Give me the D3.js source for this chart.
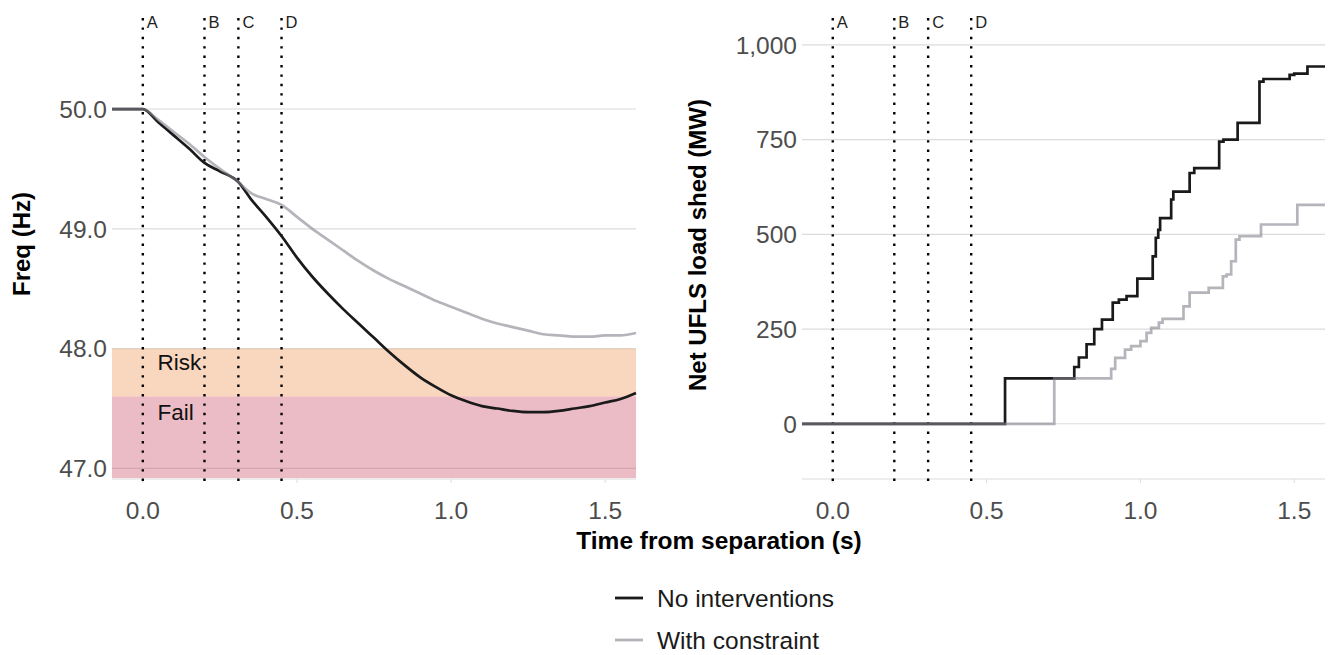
<!DOCTYPE html>
<html>
<head>
<meta charset="utf-8">
<script src="https://cdn.jsdelivr.net/npm/d3@7"></script>
<style>
  body { margin: 0; background: #fff; }
  text { font-family: "Liberation Sans", Arial, sans-serif; }
</style>
</head>
<body>
<script>
// event markers
const markerNames = ["A", "B", "C", "D"];
const markerTimes = [0, 0.2, 0.31, 0.45];

// frequency trace (Hz)
const freqTime = [-0.1, 0, 0.05, 0.1, 0.15, 0.2, 0.25, 0.31, 0.35, 0.4, 0.45, 0.5, 0.55, 0.6, 0.65, 0.7, 0.75, 0.8, 0.85, 0.9, 0.95, 1.0, 1.05, 1.1, 1.15, 1.2, 1.25, 1.3, 1.35, 1.4, 1.45, 1.5, 1.55, 1.6];
const freqNoInterv = [50, 50, 49.89, 49.78, 49.67, 49.55, 49.48, 49.39, 49.25, 49.10, 48.94, 48.76, 48.60, 48.46, 48.33, 48.21, 48.09, 47.97, 47.86, 47.76, 47.68, 47.61, 47.56, 47.52, 47.50, 47.48, 47.47, 47.47, 47.48, 47.50, 47.52, 47.55, 47.58, 47.63];
const freqConstraint = [50, 50, 49.91, 49.81, 49.71, 49.60, 49.50, 49.39, 49.30, 49.25, 49.20, 49.10, 49.00, 48.91, 48.82, 48.73, 48.65, 48.58, 48.52, 48.46, 48.40, 48.35, 48.30, 48.25, 48.21, 48.18, 48.15, 48.12, 48.11, 48.10, 48.10, 48.11, 48.11, 48.13];

// risk bands (Hz)
const bandNames = ["Risk", "Fail"];
const bandTop = [48.0, 47.6];
const bandBottom = [47.6, 46.0];
const bandLabelY = [47.89, 47.47];

// net UFLS load shed (MW), step series
const shedNoIntervTime = [-0.1, 0.56, 0.785, 0.80, 0.825, 0.85, 0.875, 0.91, 0.93, 0.955, 0.99, 1.04, 1.05, 1.058, 1.064, 1.10, 1.107, 1.16, 1.175, 1.256, 1.27, 1.316, 1.387, 1.40, 1.485, 1.50, 1.543, 1.6];
const shedNoIntervMW = [0, 120, 150, 175, 210, 250, 275, 320, 328, 337, 383, 442, 491, 512, 543, 592, 613, 662, 675, 745, 750, 794, 903, 910, 921, 924, 943, 943];
const shedConstraintTime = [-0.1, 0.72, 0.905, 0.918, 0.95, 0.97, 1.0, 1.02, 1.035, 1.06, 1.072, 1.14, 1.16, 1.222, 1.268, 1.28, 1.295, 1.31, 1.322, 1.392, 1.51, 1.6];
const shedConstraintMW = [0, 120, 145, 174, 196, 205, 218, 240, 253, 267, 277, 310, 346, 359, 389, 394, 429, 486, 495, 526, 578, 578];

const freqTicks = [47, 48, 49, 50];
const shedTicks = [0, 250, 500, 750, 1000];
const timeTicks = [0, 0.5, 1.0, 1.5];

const seriesNames = ["No interventions", "With constraint"];
const black = "#1a1a1a";
const grey = "#82828e";
const greyOpacity = 0.6;
const gridColor = "#dcdcdc";
const lineWidth = 2.7;

const svg = d3.select("body").append("svg")
    .attr("width", 1330)
    .attr("height", 655);

const plotTop = 18, plotBottom = 478;

const xLeft = d3.scaleLinear().domain([-0.1, 1.6]).range([112, 636]);
const xRight = d3.scaleLinear().domain([-0.1, 1.6]).range([802, 1325]);
const yFreq = d3.scaleLinear().domain([46.92, 50.76]).range([plotBottom, plotTop]);
const yShed = d3.scaleLinear().domain([-143, 1071]).range([plotBottom, plotTop]);

function drawFrame(x, y, yTicks, yFormat) {
    const g = svg.append("g");
    // horizontal grid
    g.selectAll(".grid").data(yTicks).join("line")
        .attr("x1", x.range()[0]).attr("x2", x.range()[1])
        .attr("y1", d => y(d)).attr("y2", d => y(d))
        .attr("stroke", gridColor).attr("stroke-width", 1.1);
    // bottom axis line and ticks
    g.append("line")
        .attr("x1", x.range()[0]).attr("x2", x.range()[1])
        .attr("y1", plotBottom + 1).attr("y2", plotBottom + 1)
        .attr("stroke", gridColor).attr("stroke-width", 1.1);
    g.selectAll(".tk").data(timeTicks).join("line")
        .attr("x1", d => x(d)).attr("x2", d => x(d))
        .attr("y1", plotBottom + 1).attr("y2", plotBottom + 5)
        .attr("stroke", gridColor);
    g.selectAll(".xl").data(timeTicks).join("text")
        .attr("x", d => x(d)).attr("y", 519)
        .attr("text-anchor", "middle")
        .attr("font-size", 24.5).attr("fill", "#4d4d4d")
        .text(d3.format(".1f"));
    g.selectAll(".yl").data(yTicks).join("text")
        .attr("x", x.range()[0] - 5).attr("y", d => y(d))
        .attr("dy", "0.36em")
        .attr("text-anchor", "end")
        .attr("font-size", 24.5).attr("fill", "#4d4d4d")
        .text(yFormat);
    return g;
}

function drawMarkers(x) {
    markerTimes.forEach((t, i) => {
        svg.append("line")
            .attr("x1", x(t)).attr("x2", x(t))
            .attr("y1", plotTop).attr("y2", plotBottom + 4)
            .attr("stroke", "#000").attr("stroke-width", 2.4)
            .attr("stroke-dasharray", "2.4,7");
        svg.append("text")
            .attr("x", x(t) + 4).attr("y", 28)
            .attr("font-size", 16.5).attr("fill", "#222")
            .text(markerNames[i]);
    });
}

// ---- left panel: frequency ----
drawFrame(xLeft, yFreq, freqTicks, d3.format(".1f"));

const bandFill = ["#ee8a45", "#c8405c"];
bandNames.forEach((name, i) => {
    const y0 = yFreq(bandTop[i]);
    const y1 = Math.min(plotBottom, yFreq(bandBottom[i]));
    svg.append("rect")
        .attr("x", xLeft.range()[0]).attr("y", y0)
        .attr("width", xLeft.range()[1] - xLeft.range()[0])
        .attr("height", y1 - y0)
        .attr("fill", bandFill[i]).attr("fill-opacity", 0.35);
});

drawMarkers(xLeft);

bandNames.forEach((name, i) => {
    svg.append("text")
        .attr("x", xLeft(0.048)).attr("y", yFreq(bandLabelY[i]))
        .attr("dy", "0.36em")
        .attr("font-size", 22.5).attr("fill", "#111")
        .text(name);
});

const freqLine = d3.line()
    .x(d => xLeft(d[0]))
    .y(d => yFreq(d[1]))
    .curve(d3.curveMonotoneX);

svg.append("path")
    .datum(freqTime.map((t, i) => [t, freqNoInterv[i]]))
    .attr("d", freqLine)
    .attr("fill", "none").attr("stroke", black).attr("stroke-width", lineWidth);
svg.append("path")
    .datum(freqTime.map((t, i) => [t, freqConstraint[i]]))
    .attr("d", freqLine)
    .attr("fill", "none").attr("stroke", grey).attr("stroke-opacity", greyOpacity)
    .attr("stroke-width", lineWidth);

// ---- right panel: load shed ----
drawFrame(xRight, yShed, shedTicks, d3.format(","));
drawMarkers(xRight);

const shedLine = d3.line()
    .x(d => xRight(d[0]))
    .y(d => yShed(d[1]))
    .curve(d3.curveStepAfter);

svg.append("path")
    .datum(shedNoIntervTime.map((t, i) => [t, shedNoIntervMW[i]]))
    .attr("d", shedLine)
    .attr("fill", "none").attr("stroke", black).attr("stroke-width", lineWidth);
svg.append("path")
    .datum(shedConstraintTime.map((t, i) => [t, shedConstraintMW[i]]))
    .attr("d", shedLine)
    .attr("fill", "none").attr("stroke", grey).attr("stroke-opacity", greyOpacity)
    .attr("stroke-width", lineWidth);

// ---- axis titles ----
svg.append("text")
    .attr("transform", "translate(30,244) rotate(-90)")
    .attr("text-anchor", "middle")
    .attr("font-size", 24).attr("font-weight", "bold").attr("fill", "#000")
    .text("Freq (Hz)");
svg.append("text")
    .attr("transform", "translate(706,245) rotate(-90)")
    .attr("text-anchor", "middle")
    .attr("font-size", 24).attr("font-weight", "bold").attr("fill", "#000")
    .text("Net UFLS load shed (MW)");
svg.append("text")
    .attr("x", 719).attr("y", 549)
    .attr("text-anchor", "middle")
    .attr("font-size", 24.5).attr("font-weight", "bold").attr("fill", "#000")
    .text("Time from separation (s)");

// ---- legend ----
const legendY = [598, 640];
seriesNames.forEach((name, i) => {
    svg.append("line")
        .attr("x1", 615).attr("x2", 643)
        .attr("y1", legendY[i]).attr("y2", legendY[i])
        .attr("stroke", i === 0 ? black : grey)
        .attr("stroke-opacity", i === 0 ? 1 : greyOpacity)
        .attr("stroke-width", 2.8);
    svg.append("text")
        .attr("x", 657).attr("y", legendY[i])
        .attr("dy", "0.36em")
        .attr("font-size", 24.5).attr("fill", "#1a1a1a")
        .text(name);
});
</script>
</body>
</html>
